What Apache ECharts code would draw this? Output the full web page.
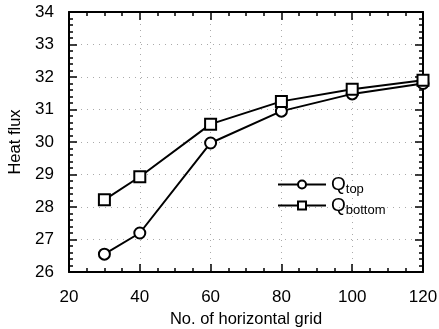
<!DOCTYPE html>
<html>
<head>
<meta charset="utf-8">
<script src="https://cdn.jsdelivr.net/npm/echarts@6/dist/echarts.min.js"></script>
<style>
  html, body { margin: 0; padding: 0; background: #fff; }
  #main { width: 439px; height: 329px; }
</style>
</head>
<body>
<div id="main"></div>
<script>
var gridSizes = [30, 40, 60, 80, 100, 120];
var qTop = [26.55, 27.2, 29.97, 30.95, 31.48, 31.8];
var qBottom = [28.22, 28.93, 30.55, 31.25, 31.62, 31.9];

function pairs(ys) {
    return gridSizes.map(function (x, i) { return [x, ys[i]]; });
}

var font = 'Liberation Sans, Arial, sans-serif';
var tickStyle = { color: '#000', width: 1.5 };
var gridLine = { color: '#aaa', type: [1, 5], width: 1 };

function xAx(pos, show) {
    return {
        type: 'value', position: pos, min: 20, max: 120, interval: 20,
        axisLine: { show: true, onZero: false, lineStyle: { color: '#000', width: 2 } },
        axisTick: { show: true, inside: true, length: 8, lineStyle: tickStyle },
        minorTick: { show: true, splitNumber: 4, length: 4, lineStyle: tickStyle },
        axisLabel: { show: show, color: '#000', fontSize: 17, fontFamily: font, margin: 17 },
        splitLine: { show: show, lineStyle: gridLine },
        name: show ? 'No. of horizontal grid' : '',
        nameLocation: 'middle', nameGap: 37,
        nameTextStyle: { color: '#000', fontSize: 16.5, fontFamily: font }
    };
}
function yAx(pos, show) {
    return {
        type: 'value', position: pos, min: 26, max: 34, interval: 1,
        axisLine: { show: true, onZero: false, lineStyle: { color: '#000', width: 2 } },
        axisTick: { show: true, inside: true, length: 8, lineStyle: tickStyle },
        minorTick: { show: true, splitNumber: 5, length: 4, lineStyle: tickStyle },
        axisLabel: { show: show, color: '#000', fontSize: 17, fontFamily: font, margin: 15 },
        splitLine: { show: show, lineStyle: gridLine },
        name: show ? 'Heat flux' : '',
        nameLocation: 'middle', nameGap: 45,
        nameTextStyle: { color: '#000', fontSize: 16.5, fontFamily: font }
    };
}

var legendRich = {
    q: { fontSize: 19, fontFamily: font, color: '#000', lineHeight: 20 },
    s: { fontSize: 13, fontFamily: font, color: '#000', verticalAlign: 'bottom', padding: [10, 0, 0, 0] }
};

echarts.init(document.getElementById('main')).setOption({
    animation: false,
    grid: { left: 69, right: 16, top: 12, bottom: 57, outerBoundsMode: 'none' },
    xAxis: [xAx('bottom', true), xAx('top', false)],
    yAxis: [yAx('left', true), yAx('right', false)],
    legend: {
        left: 272, top: 170, orient: 'vertical', itemGap: 0,
        itemWidth: 48, itemHeight: 10,
        data: ['top', 'bottom'],
        formatter: function (n) { return '{q|Q}{s|' + n + '}'; },
        textStyle: { rich: legendRich }
    },
    series: [{
        name: 'top', type: 'line', data: pairs(qTop),
        symbol: 'emptyCircle', symbolSize: 11,
        lineStyle: { color: '#000', width: 2 },
        itemStyle: { color: '#000', borderWidth: 1.5 }
    }, {
        name: 'bottom', type: 'line', data: pairs(qBottom),
        symbol: 'emptyRect', symbolSize: 11,
        lineStyle: { color: '#000', width: 2 },
        itemStyle: { color: '#000', borderWidth: 1.5 }
    }]
});
</script>
</body>
</html>
